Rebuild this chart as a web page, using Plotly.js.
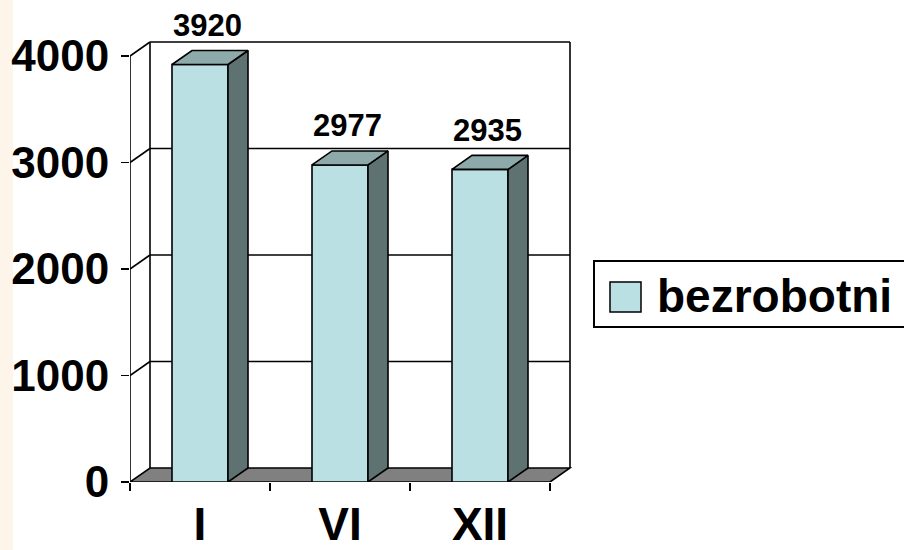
<!DOCTYPE html>
<html><head><meta charset="utf-8">
<script src="https://cdn.plot.ly/plotly-3.0.1.min.js"></script>
<style>html,body{margin:0;padding:0;background:#fff;} #chart{width:904px;height:550px;}</style>
</head><body><div id="chart"></div>
<script>
// ---- data ----
const categories = ["I", "VI", "XII"];
const values = [3920, 2977, 2935];
const seriesName = "bezrobotni";
const yTicks = [0, 1000, 2000, 3000, 4000];

// ---- layout geometry ----
const W = 904, H = 550, L = 130, R = 332, T = 40, B = 68;
const plotW = W - L - R, plotH = H - T - B;
const catPx = 140;                 // pixels per category
const xMax = plotW / catPx;
const yMax = 4150;
const pxPerY = plotH / yMax;
const DX = 20 / catPx;             // depth offset in x units
const DY = 14 / pxPerY;            // depth offset in y units
const barW = 0.4;
const wallTop = yTicks[yTicks.length - 1];
const nCat = categories.length;

const FONT = "Liberation Sans, Arial, Helvetica, sans-serif";
const frontColor = "#BBE0E3", topColor = "#8DA9AA", sideColor = "#5E7272", floorColor = "#808080";
const LW = 1.6;

const px = v => (v - L) / plotW;          // pixel x -> paper
const py = v => (H - B - v) / plotH;      // pixel y -> paper

const xs = categories.map((c, i) => i + 0.5);

// faces built from values
const topX = [], topY = [], sideX = [], sideY = [];
values.forEach((v, i) => {
  const x0 = xs[i] - barW / 2, x1 = xs[i] + barW / 2;
  topX.push(x0, x1, x1 + DX, x0 + DX, x0, null);
  topY.push(v, v, v + DY, v + DY, v, null);
  sideX.push(x1, x1, x1 + DX, x1 + DX, x1, null);
  sideY.push(0, v, v + DY, DY, 0, null);
});

const traces = [
  {type: "bar", x: xs, y: values, width: barW, name: seriesName,
   marker: {color: frontColor, line: {color: "#000", width: LW}}, showlegend: false},
  {type: "scatter", mode: "lines", x: sideX, y: sideY, fill: "toself", fillcolor: sideColor,
   line: {color: "#000", width: LW}, connectgaps: false, showlegend: false},
  {type: "scatter", mode: "lines", x: topX, y: topY, fill: "toself", fillcolor: topColor,
   line: {color: "#000", width: LW}, connectgaps: false, showlegend: false}
];

const shapes = [];
// left peach band
shapes.push({type: "rect", xref: "paper", yref: "paper", x0: px(0), x1: px(13), y0: py(0), y1: py(H),
  fillcolor: "#FDF4EA", line: {width: 0}, layer: "below"});
// floor
shapes.push({type: "path", xref: "x", yref: "y", layer: "below",
  path: `M 0,0 L ${nCat},0 L ${nCat + DX},${DY} L ${DX},${DY} Z`,
  fillcolor: floorColor, line: {color: "#000", width: LW}});
// walls: gridlines (side diagonal + back horizontal)
yTicks.forEach(t => {
  if (t === 0) return;
  shapes.push({type: "line", xref: "x", yref: "y", layer: "below", x0: 0, y0: t, x1: DX, y1: t + DY,
    line: {color: "#000", width: LW}});
  shapes.push({type: "line", xref: "x", yref: "y", layer: "below", x0: DX, y0: t + DY, x1: nCat + DX, y1: t + DY,
    line: {color: "#000", width: LW}});
});
// wall verticals
shapes.push({type: "line", xref: "x", yref: "y", layer: "below", x0: DX, y0: DY, x1: DX, y1: wallTop + DY,
  line: {color: "#000", width: LW}});
shapes.push({type: "line", xref: "x", yref: "y", layer: "below", x0: nCat + DX, y0: DY, x1: nCat + DX, y1: wallTop + DY,
  line: {color: "#000", width: LW}});
// front y axis line
shapes.push({type: "line", xref: "x", yref: "y", layer: "below", x0: 0, y0: 0, x1: 0, y1: wallTop,
  line: {color: "#000", width: LW}});

// manual legend
shapes.push({type: "rect", xref: "paper", yref: "paper", x0: px(594), x1: px(912), y0: py(327), y1: py(261),
  fillcolor: "#fff", line: {color: "#000", width: 2}});
shapes.push({type: "rect", xref: "paper", yref: "paper", x0: px(610), x1: px(641), y0: py(312), y1: py(282),
  fillcolor: frontColor, line: {color: "#000", width: 1.5}});

const annotations = values.map((v, i) => ({
  x: xs[i] + DX / 2 - 0.015, y: v + DY, xref: "x", yref: "y", text: String(v),
  showarrow: false, xanchor: "center", yanchor: "middle", yshift: 25,
  font: {family: FONT, size: 31, color: "#000", weight: 700}
}));
annotations.push({xref: "paper", yref: "paper", x: px(655), y: py(296), text: seriesName,
  showarrow: false, xanchor: "left", yanchor: "middle",
  font: {family: FONT, size: 46, color: "#000", weight: 700}});

const layout = {
  width: W, height: H,
  margin: {l: L, r: R, t: T, b: B, pad: 0},
  paper_bgcolor: "#fff", plot_bgcolor: "rgba(0,0,0,0)",
  showlegend: false,
  xaxis: {range: [0, xMax], tickvals: xs, ticktext: categories, ticks: "", showgrid: false,
    zeroline: false, showline: false, ticklabelstandoff: 11,
    tickfont: {family: FONT, size: 46, color: "#000", weight: 700},
    minor: {tickvals: categories.map((c, i) => i).concat([nCat]), ticks: "outside", ticklen: 8,
      tickcolor: "#000", tickwidth: LW, showgrid: false}},
  yaxis: {range: [0, yMax], tickvals: yTicks, ticks: "outside", ticklen: 8, tickcolor: "#000", tickwidth: LW,
    showgrid: false, zeroline: false, showline: false, ticklabelstandoff: 3,
    tickfont: {family: FONT, size: 44, color: "#000", weight: 700}},
  shapes: shapes,
  annotations: annotations
};

Plotly.newPlot("chart", traces, layout, {staticPlot: true, displayModeBar: false});
</script>
</body></html>
